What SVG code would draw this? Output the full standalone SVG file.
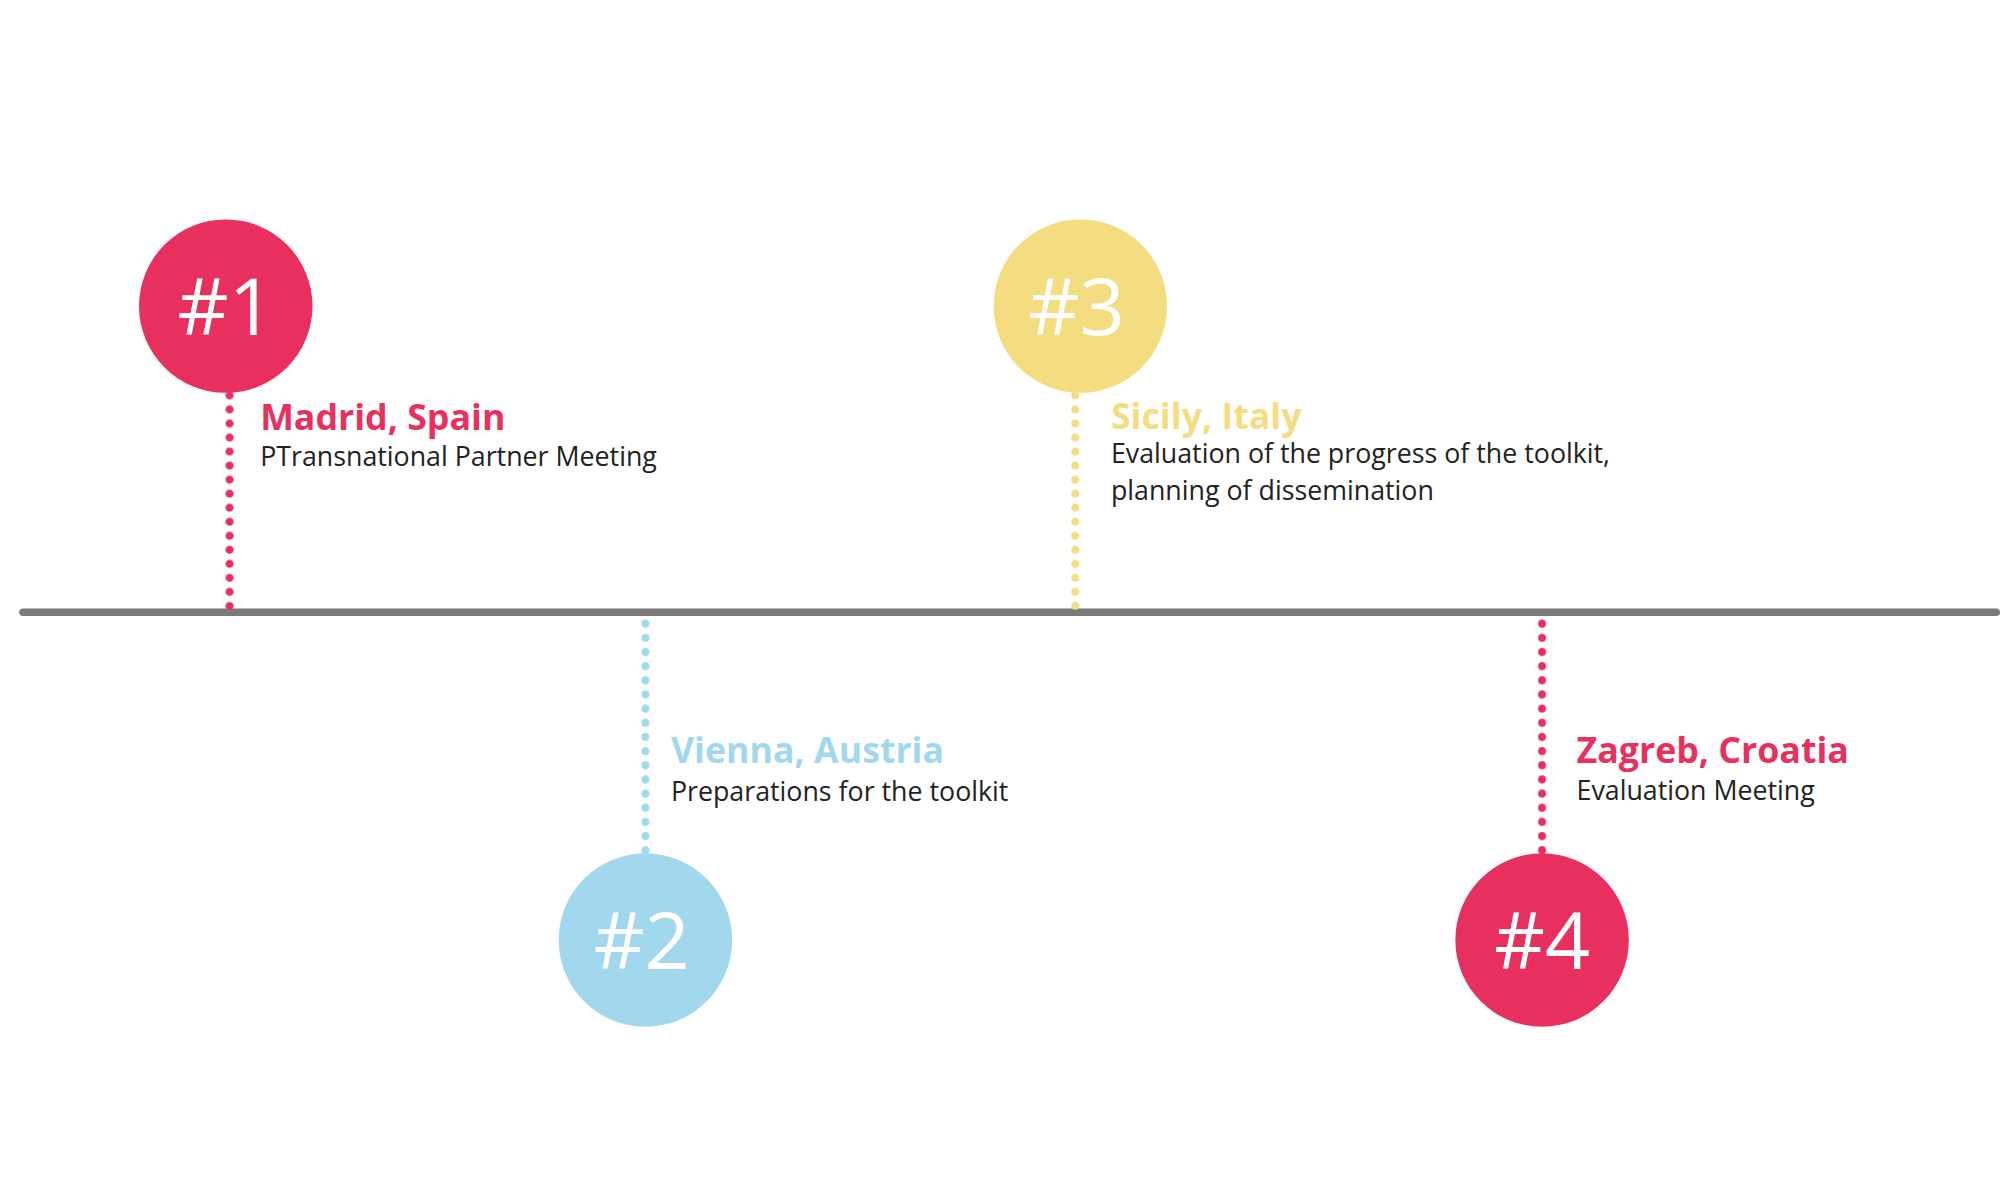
<svg xmlns="http://www.w3.org/2000/svg" width="2000" height="1200" viewBox="0 0 2000 1200">
<defs>
<pattern id="pr" width="8" height="11" patternUnits="userSpaceOnUse" x="176" y="304.5"><circle cx="4" cy="5.5" r="3.2" fill="#e8305e"/></pattern>
<pattern id="py" width="8" height="11" patternUnits="userSpaceOnUse" x="839" y="304.5"><circle cx="4" cy="5.5" r="3.2" fill="#f3dd80"/></pattern>
<pattern id="pb" width="8" height="11.1" patternUnits="userSpaceOnUse" x="502" y="483.5"><circle cx="4" cy="5.5" r="3.2" fill="#a2d8ed"/></pattern>
<pattern id="pr2" width="8" height="11.1" patternUnits="userSpaceOnUse" x="1205" y="483.5"><circle cx="4" cy="5.5" r="3.2" fill="#e8305e"/></pattern>
</defs>
<style>
.num{font-family:"Open Sans",sans-serif;font-size:62px;fill:#fff;text-anchor:middle;font-weight:400}
.t{font-family:"Open Sans",sans-serif;font-size:28px;font-weight:700}
.d{font-family:"Open Sans",sans-serif;font-size:21px;fill:#222}
</style>
<rect width="2000" height="1200" fill="#fff"/>
<g transform="scale(1.2755)">
<g id="connectors">
<line x1="18" y1="480" x2="1565" y2="480" stroke="#7a7a7a" stroke-width="6" stroke-linecap="round"/>
<rect x="176" y="304.5" width="8" height="176" fill="url(#pr)"/>
<rect x="839" y="304.5" width="8" height="176" fill="url(#py)"/>
<rect x="502" y="483.5" width="8" height="189" fill="url(#pb)"/>
<rect x="1205" y="483.5" width="8" height="189" fill="url(#pr2)"/>
</g>
<g id="n1">
<circle cx="177" cy="240" r="68" fill="#e8305e"/>
<text class="num" x="177" y="263">#1</text>
<text class="t" x="204" y="337" fill="#e8305e">Madrid, Spain</text>
<text class="d" x="204" y="365">PTransnational Partner Meeting</text>
</g>
<g id="n2">
<circle cx="506" cy="737" r="68" fill="#a2d8ed"/>
<text class="num" x="503" y="760">#2</text>
<text class="t" x="526" y="598" fill="#a2d8ed">Vienna, Austria</text>
<text class="d" x="526" y="628">Preparations for the toolkit</text>
</g>
<g id="n3">
<circle cx="847" cy="240" r="68" fill="#f3dd80"/>
<text class="num" x="844" y="263">#3</text>
<text class="t" x="871" y="336" fill="#f3dd80">Sicily, Italy</text>
<text class="d" x="871" y="363">Evaluation of the progress of the toolkit,</text>
<text class="d" x="871" y="392">planning of dissemination</text>
</g>
<g id="n4">
<circle cx="1209" cy="737" r="68" fill="#e8305e"/>
<text class="num" x="1209" y="760">#4</text>
<text class="t" x="1236" y="598" fill="#e8305e">Zagreb, Croatia</text>
<text class="d" x="1236" y="627">Evaluation Meeting</text>
</g>
</g>
</svg>
